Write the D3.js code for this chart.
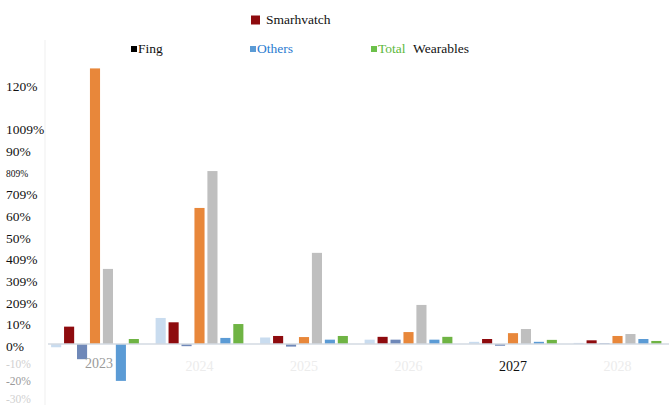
<!DOCTYPE html>
<html>
<head>
<meta charset="utf-8">
<script src="https://cdn.jsdelivr.net/npm/d3@7/dist/d3.min.js"></script>
<style>
  html, body { margin: 0; padding: 0; background: #fff; }
  svg { display: block; }
  svg text { font-family: "Liberation Serif", "DejaVu Serif", serif; }
</style>
</head>
<body>
<svg id="chart" width="669" height="408"></svg>
<script>
// Year-on-year growth of wearable shipments by category
const years = ["2023", "2024", "2025", "2026", "2027", "2028"];
const seriesKeys = ["Hearables", "Smarhvatch", "Wristband", "Glasses", "Fing", "Others", "Total Wearables"];
const seriesColors = ["#c9dcef", "#8e0b0e", "#6f88b8", "#e8873a", "#bfbfbf", "#5b9bd5", "#6fb444"];

const hearables  = [-0.015, 0.12, 0.03, 0.02, 0.01, 0.005];
const smartwatch = [0.08, 0.10, 0.037, 0.033, 0.023, 0.017];
const wristband  = [-0.07, -0.01, -0.012, 0.02, -0.008, 0.003];
const glasses    = [1.27, 0.627, 0.032, 0.055, 0.05, 0.037];
const ring       = [0.346, 0.797, 0.42, 0.18, 0.069, 0.046];
const others     = [-0.17, 0.028, 0.02, 0.02, 0.01, 0.023];
const total      = [0.023, 0.092, 0.037, 0.033, 0.019, 0.014];
const seriesValues = [hearables, smartwatch, wristband, glasses, ring, others, total];

// Axis tick values and the labels printed beside them
const tickValues = [1.2, 1.0, 0.9, 0.8, 0.7, 0.6, 0.5, 0.4, 0.3, 0.2, 0.1, 0, -0.1, -0.2, -0.3];
const tickLabels = ["120%", "1009%", "90%", "809%", "709%", "60%", "50%", "409%", "309%", "209%", "10%", "0%", "-10%", "-20%", "-30%"];

const serif = "'Liberation Serif', 'DejaVu Serif', serif";
const svg = d3.select("#chart");

const y = d3.scaleLinear().domain([-0.3, 1.3]).range([409.1, 61.9]);
const x0 = d3.scaleBand().domain(years).range([42.75, 669.75]).paddingInner(0.16).paddingOuter(0.08);
const x1 = d3.scaleBand().domain(seriesKeys).range([0, x0.bandwidth()]).paddingInner(0.22).paddingOuter(0);

// faint vertical axis
svg.append("line")
  .attr("x1", 45).attr("x2", 45).attr("y1", 40).attr("y2", 405)
  .attr("stroke", "#efefef").attr("stroke-width", 1);

// y tick labels; the negative ones sit a little tighter below zero
const yLab = svg.append("g");
tickValues.forEach((v, i) => {
  const lab = tickLabels[i];
  const small = lab === "809%";
  const neg = v < 0;
  const ty = neg ? y(0) + (y(v) - y(0)) * 0.8 + 4 : y(v) + 4;
  yLab.append("text")
    .attr("x", 6)
    .attr("y", ty)
    .attr("dominant-baseline", "middle")
    .attr("font-family", serif)
    .attr("font-size", small ? 9.5 : (neg ? 11.5 : 13.5))
    .attr("fill", neg ? (v === -0.2 ? "#9a9a9a" : "#d0d0d0") : "#111")
    .text(lab);
});

// bars
const rows = years.map((yr, i) => ({ year: yr, vals: seriesKeys.map((k, j) => ({ key: k, color: seriesColors[j], v: seriesValues[j][i] })) }));
const groups = svg.append("g").selectAll("g").data(rows).join("g")
  .attr("transform", d => `translate(${x0(d.year)},0)`);
groups.selectAll("rect").data(d => d.vals).join("rect")
  .attr("x", d => x1(d.key))
  .attr("width", x1.bandwidth())
  .attr("y", d => Math.min(y(d.v), y(0)))
  .attr("height", d => Math.abs(y(d.v) - y(0)))
  .attr("fill", d => d.color);

// zero baseline
svg.append("line")
  .attr("x1", 48).attr("x2", 669).attr("y1", y(0)).attr("y2", y(0))
  .attr("stroke", "#d3dae2").attr("stroke-width", 1.5);

// x labels (only one printed clearly)
svg.append("g").selectAll("text").data(years).join("text")
  .attr("x", d => x0(d) + x0.bandwidth() / 2 + (d === "2023" ? 4 : 0))
  .attr("y", d => d === "2023" ? 368 : 371)
  .attr("text-anchor", "middle")
  .attr("font-family", serif)
  .attr("font-size", 14)
  .attr("fill", d => d === "2027" ? "#111" : (d === "2023" ? "#9a9a9a" : "#ececec"))
  .text(d => d);

// legend
const legend = svg.append("g");
const legendItems = [
  { label: "Smarhvatch", color: seriesColors[1], text: "#111", x: 251, y: 19, box: 9 },
  { label: "Fing", color: "#000", text: "#111", x: 131, y: 48, box: 6 },
  { label: "Others", color: seriesColors[5], text: "#2a7bd0", x: 250, y: 48, box: 6 },
  { label: "Total", color: "#6cc04a", text: "#5cb83c", x: 371, y: 48, box: 6 }
];
legendItems.forEach(it => {
  legend.append("rect")
    .attr("x", it.x).attr("y", it.y - it.box / 2 + 1)
    .attr("width", it.box).attr("height", it.box)
    .attr("fill", it.color);
  legend.append("text")
    .attr("x", it.x + it.box + (it.box > 6 ? 6 : 1))
    .attr("y", it.y + 5)
    .attr("font-family", serif)
    .attr("font-size", 13.5)
    .attr("fill", it.text)
    .text(it.label);
});
legend.append("text")
  .attr("x", 413).attr("y", 53)
  .attr("font-family", serif)
  .attr("font-size", 13.5).attr("fill", "#111")
  .text("Wearables");
</script>
</body>
</html>
